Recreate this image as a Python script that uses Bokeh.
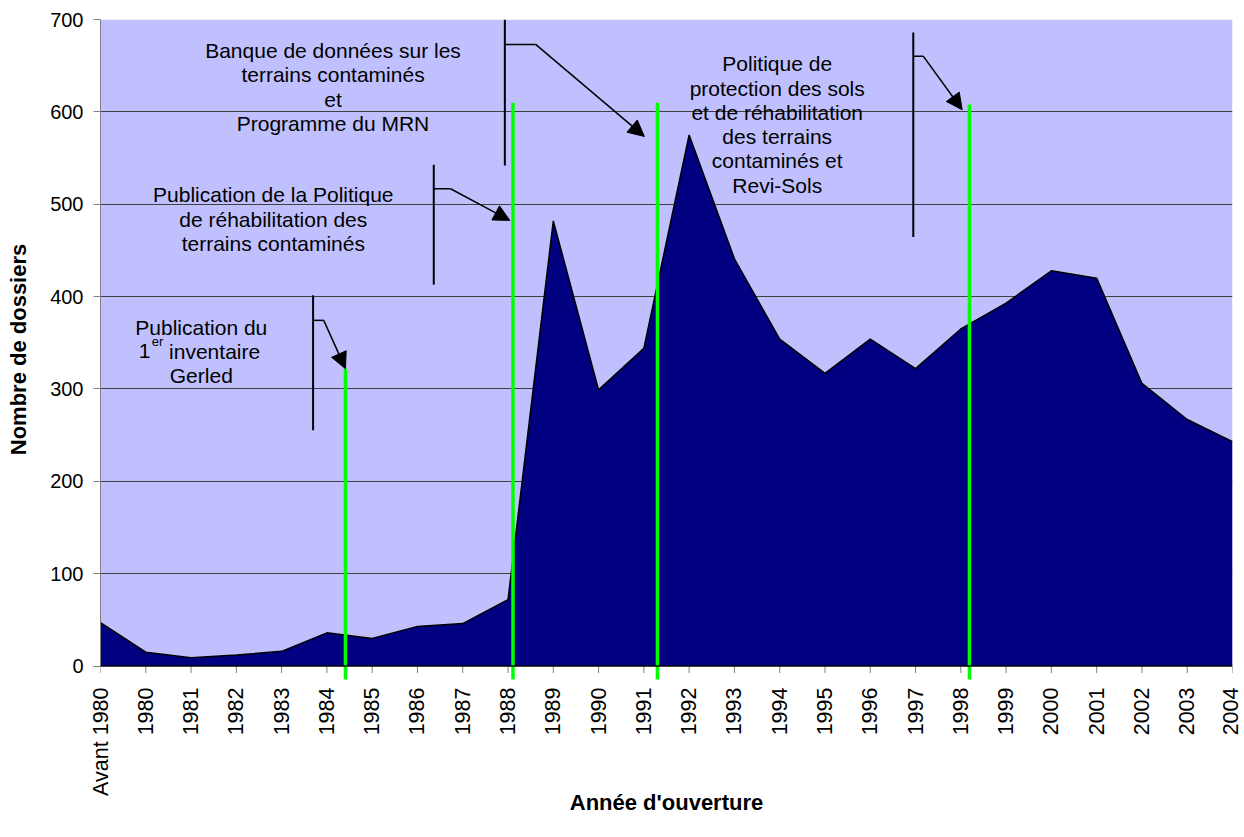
import math
from bokeh.plotting import figure
from bokeh.models import Range1d, FixedTicker, Span, BoxAnnotation, Arrow, NormalHead
from bokeh.core.properties import value
from bokeh.embed import file_html
from bokeh.resources import INLINE

# ---------------- data ----------------
categories = ["Avant 1980", "1980", "1981", "1982", "1983", "1984", "1985", "1986",
              "1987", "1988", "1989", "1990", "1991", "1992", "1993", "1994", "1995",
              "1996", "1997", "1998", "1999", "2000", "2001", "2002", "2003", "2004"]
dossiers = [47, 15, 9, 12, 16, 36, 30, 43, 46, 72, 482, 299, 344, 575, 441, 354, 317,
            354, 322, 365, 393, 428, 420, 306, 267, 243]
y_ticks = [0, 100, 200, 300, 400, 500, 600, 700]

# events (decimal years) marked by green lines, and their heights
event_years = [1984.41, 1988.11, 1991.30, 1998.19]
event_tops = [322, 610, 610, 608]

# annotation texts
note_a = ["Publication du", "", "Gerled"]
note_b = ["Publication de la Politique", "de réhabilitation des", "terrains contaminés"]
note_c = ["Banque de données sur les", "terrains contaminés", "et", "Programme du MRN"]
note_d = ["Politique de", "protection des sols", "et de réhabilitation",
          "des terrains", "contaminés et", "Revi-Sols"]

FONT = "Liberation Sans"
BG = "#C0C0FF"
NAVY = "#000080"
GREEN = "#00FF00"

idx = list(range(len(categories)))


def year_to_index(y):
    return y - 1979.0


p = figure(frame_width=1132, frame_height=660, output_backend="svg", toolbar_location=None,
           x_range=Range1d(0, len(categories) - 1), y_range=Range1d(-14.5, 700),
           min_border_left=100, min_border_top=19, min_border_right=10, min_border_bottom=4)
p.background_fill_color = "white"
p.border_fill_color = "white"
p.outline_line_color = None

# lavender plot area above zero
p.add_layout(BoxAnnotation(bottom=0, fill_color=BG, fill_alpha=1.0, line_color=None, level="image"))

# grid
p.xgrid.visible = False
p.ygrid.ticker = FixedTicker(ticks=y_ticks[1:])
p.ygrid.grid_line_color = "#404040"
p.ygrid.grid_line_width = 1

# y axis
p.yaxis.ticker = FixedTicker(ticks=y_ticks)
p.yaxis.bounds = (0, 700)
p.yaxis.axis_line_color = "#808080"
p.yaxis.major_tick_line_color = "#808080"
p.yaxis.major_tick_out = 7
p.yaxis.major_tick_in = 0
p.yaxis.minor_tick_line_color = None
p.yaxis.major_label_standoff = 10
p.yaxis.major_label_text_font = FONT
p.yaxis.major_label_text_font_size = "20px"
p.yaxis.major_label_text_color = "black"
p.yaxis.axis_label = "Nombre de dossiers"
p.yaxis.axis_label_text_font = FONT
p.yaxis.axis_label_text_font_style = "bold"
p.yaxis.axis_label_text_font_size = "22px"
p.yaxis.axis_label_text_color = "black"
p.yaxis.axis_label_standoff = 16

# x axis (labels only; line/ticks drawn at zero)
p.xaxis.ticker = FixedTicker(ticks=idx)
p.xaxis.major_label_overrides = {i: c for i, c in zip(idx, categories)}
p.xaxis.major_label_orientation = math.pi / 2
p.xaxis.axis_line_color = None
p.xaxis.major_tick_line_color = None
p.xaxis.minor_tick_line_color = None
p.xaxis.major_tick_out = 0
p.xaxis.major_tick_in = 0
p.xaxis.major_label_standoff = 8
p.xaxis.major_label_text_font = FONT
p.xaxis.major_label_text_font_size = "21.5px"
p.xaxis.major_label_text_color = "black"
p.xaxis.axis_label = "Année d'ouverture"
p.xaxis.axis_label_text_font = FONT
p.xaxis.axis_label_text_font_style = "bold"
p.xaxis.axis_label_text_font_size = "22px"
p.xaxis.axis_label_text_color = "black"
p.xaxis.axis_label_standoff = -9

# area
p.varea(x=idx, y1=[0] * len(idx), y2=dossiers, fill_color=NAVY)
p.line(x=idx, y=dossiers, line_color="black", line_width=1.5)

# x axis line and ticks at zero
p.add_layout(Span(location=0, dimension="width", line_color="black", line_width=1.5))
p.segment(x0=idx, y0=[0] * len(idx), x1=idx, y1=[-7.5] * len(idx), line_color="#808080", line_width=1)

# green event lines
ex = [year_to_index(y) for y in event_years]
p.segment(x0=ex, y0=[-15] * len(ex), x1=ex, y1=event_tops, line_color=GREEN, line_width=3.5)

# callout brackets: vertical bar, short horizontal, arrow
brackets = [
    # bar_x, bar_top, bar_bottom, hook_y, hook_x_end, tip_x, tip_y
    (4.695, 401.4, 255.3, 374.3, 4.93, 5.41, 322),
    (7.36, 542.8, 413.0, 516.8, 7.73, 9.04, 482.5),
    (8.93, 700.0, 542.0, 673.0, 9.61, 12.01, 573.4),
    (17.95, 686.0, 464.5, 660.3, 18.17, 19.03, 602.3),
]
for bx, bt, bb, hy, hx, tx, ty in brackets:
    p.segment(x0=[bx], y0=[bt], x1=[bx], y1=[bb], line_color="black", line_width=2)
    p.segment(x0=[bx], y0=[hy], x1=[hx], y1=[hy], line_color="black", line_width=1.5)
    p.add_layout(Arrow(end=NormalHead(size=16, fill_color="black", line_color="black", line_width=1),
                       x_start=hx, y_start=hy, x_end=tx, y_end=ty,
                       line_color="black", line_width=1.5))

# annotation texts
STEP = 26.3
notes = [(note_a, 2.226, 367.1), (note_b, 3.816, 510.3), (note_c, 5.135, 666.5), (note_d, 14.945, 652.1)]
for lines, cx, y0 in notes:
    xs, ys, ts = [], [], []
    for k, t in enumerate(lines):
        if t:
            xs.append(cx)
            ys.append(y0 - k * STEP)
            ts.append(t)
    p.text(x=xs, y=ys, text=ts, text_font=value(FONT), text_font_size="21px",
           text_align="center", text_baseline="alphabetic", text_color="black")

# "1er inventaire" with superscript
y_line2 = 367.1 - STEP
p.text(x=[0.846], y=[y_line2], text=["1"], text_font=value(FONT), text_font_size="21px",
       text_align="left", text_baseline="alphabetic", text_color="black")
p.text(x=[1.131], y=[y_line2 + 10.5], text=["er"], text_font=value(FONT), text_font_size="13px",
       text_align="left", text_baseline="alphabetic", text_color="black")
p.text(x=[1.515], y=[y_line2], text=["inventaire"], text_font=value(FONT), text_font_size="21px",
       text_align="left", text_baseline="alphabetic", text_color="black")

open("out.html", "w").write(file_html(p, INLINE))
